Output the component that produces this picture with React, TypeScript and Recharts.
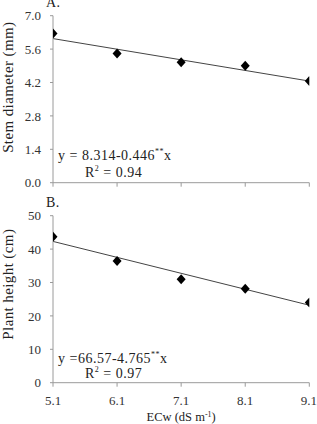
import { ComposedChart, Scatter, Line, XAxis, YAxis, Label } from 'recharts';

const ecw = [5.1, 6.1, 7.1, 8.1, 9.1];
const stemDiameter = [6.25, 5.42, 5.05, 4.9, 4.26];
const plantHeight = [43.7, 36.4, 31.0, 28.1, 24.0];
// regression line end points
const stemTrend = [6.04, 4.26];
const heightTrend = [42.3, 23.2];
const stemTicks = [0, 1.4, 2.8, 4.2, 5.6, 7.0];
const heightTicks = [0, 10, 20, 30, 40, 50];

const stemData = ecw.map((x, i) => ({ x, y: stemDiameter[i] }));
const heightData = ecw.map((x, i) => ({ x, y: plantHeight[i] }));
const stemLine = [{ x: ecw[0], y: stemTrend[0] }, { x: ecw[ecw.length - 1], y: stemTrend[1] }];
const heightLine = [{ x: ecw[0], y: heightTrend[0] }, { x: ecw[ecw.length - 1], y: heightTrend[1] }];

const FONT = '"Liberation Serif", "Times New Roman", serif';
const AXIS = '#9a9a9a';

const Diamond = (p: any) => (
    <path
        d={`M${p.cx},${p.cy - 5} L${p.cx + 4.5},${p.cy} L${p.cx},${p.cy + 5} L${p.cx - 4.5},${p.cy} Z`}
        fill="#000"
    />
);

const YTitle = (text: string, offset: number) => (props: any) => {
    const vb = props.viewBox;
    const cy = vb.y + vb.height / 2 - offset;
    return (
        <text x={13} y={cy} transform={`rotate(-90, 13, ${cy})`} textAnchor="middle"
            fontFamily={FONT} fontSize={15} letterSpacing={0.4} fill="#222">
            {text}
        </text>
    );
};

// bottom chart svg starts at page y = 200
const XTitle = (props: any) => {
    const vb = props.viewBox;
    return (
        <text x={vb.x + vb.width / 2} y={221} textAnchor="middle" fontFamily={FONT} fontSize={12.5} fill="#222">
            ECw (dS m<tspan dy={-4} fontSize={8}>-1</tspan><tspan dy={4}>)</tspan>
        </text>
    );
};

const tickStyle = { fontFamily: FONT, fontSize: 13, fill: '#333' };

const eqStyle: any = {
    position: 'absolute',
    fontFamily: FONT,
    fontSize: 14,
    letterSpacing: 0.5,
    color: '#222',
    whiteSpace: 'pre',
    lineHeight: '16px',
};

const App = () => {
    return (
        <div style={{ position: 'absolute', top: 0, left: 0, width: 317, height: 424, background: '#fff' }}>
            <ComposedChart width={317} height={200} margin={{ top: 15.7, right: 7.7, left: 0, bottom: 0 }}>
                <XAxis type="number" dataKey="x" domain={[5.1, 9.1]} ticks={ecw} tickFormatter={() => ''}
                    height={17.3} stroke={AXIS} tickSize={4} allowDataOverflow />
                <YAxis type="number" dataKey="y" domain={[0, 7]} ticks={stemTicks} width={53}
                    tickFormatter={(v: number) => v.toFixed(1)} tick={tickStyle} stroke={AXIS}
                    tickSize={3} tickMargin={9}>
                    <Label content={YTitle('Stem diameter (mm)', 12)} />
                </YAxis>
                <Line data={stemLine} dataKey="y" stroke="#444" strokeWidth={1} dot={false} isAnimationActive={false} />
                <Scatter data={stemData} dataKey="y" shape={Diamond} isAnimationActive={false} />
            </ComposedChart>
            <ComposedChart width={317} height={224} margin={{ top: 15.7, right: 7.7, left: 0, bottom: 0 }}>
                <XAxis type="number" dataKey="x" domain={[5.1, 9.1]} ticks={ecw}
                    tickFormatter={(v: number) => v.toFixed(1)} tick={tickStyle}
                    height={41.3} stroke={AXIS} tickSize={4} tickMargin={9} allowDataOverflow>
                    <Label content={XTitle} />
                </XAxis>
                <YAxis type="number" dataKey="y" domain={[0, 50]} ticks={heightTicks} width={53}
                    tick={tickStyle} stroke={AXIS} tickSize={3} tickMargin={9}>
                    <Label content={YTitle('Plant height (cm)', 15)} />
                </YAxis>
                <Line data={heightLine} dataKey="y" stroke="#444" strokeWidth={1} dot={false} isAnimationActive={false} />
                <Scatter data={heightData} dataKey="y" shape={Diamond} isAnimationActive={false} />
            </ComposedChart>
            <div style={{ ...eqStyle, left: 46, top: -5 }}>A.</div>
            <div style={{ ...eqStyle, left: 46, top: 195 }}>B.</div>
            <div style={{ ...eqStyle, left: 58, top: 144 }}>
                y = 8.314-0.446<sup style={{ fontSize: 8 }}>**</sup>x
            </div>
            <div style={{ ...eqStyle, left: 85, top: 161 }}>
                R<sup style={{ fontSize: 8 }}>2</sup> = 0.94
            </div>
            <div style={{ ...eqStyle, left: 58, top: 347 }}>
                y =66.57-4.765<sup style={{ fontSize: 8 }}>**</sup>x
            </div>
            <div style={{ ...eqStyle, left: 85, top: 362 }}>
                R<sup style={{ fontSize: 8 }}>2</sup> = 0.97
            </div>
        </div>
    );
};

export default App;
